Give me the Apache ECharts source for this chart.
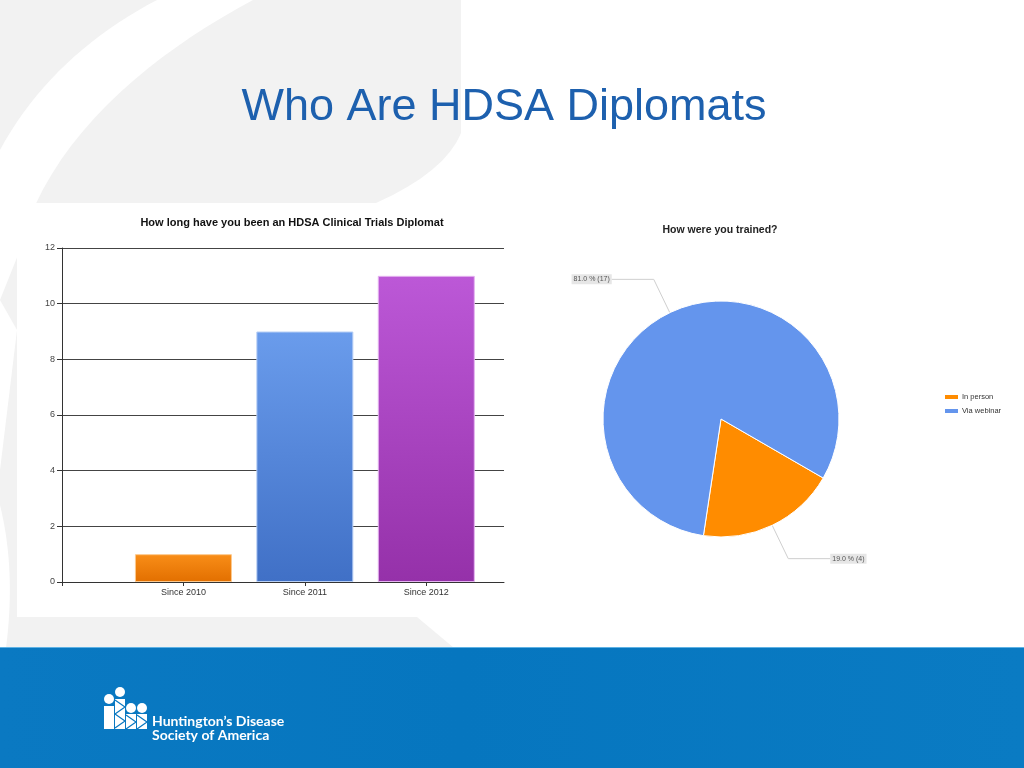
<!DOCTYPE html>
<html>
<head>
<meta charset="utf-8">
<title>Who Are HDSA Diplomats</title>
<script src="https://cdn.jsdelivr.net/npm/echarts@6/dist/echarts.min.js"></script>
<style>
  html, body { margin: 0; padding: 0; background: #fff; }
  #slide { width: 1024px; height: 768px; }
</style>
</head>
<body>
<div id="slide"></div>
<script>
// bar chart: how long have you been a diplomat
const barCategories = ['Since 2010', 'Since 2011', 'Since 2012'];
const barValues = [1, 9, 11];
const barTicks = [0, 2, 4, 6, 8, 10, 12];

// pie chart: how were you trained
const pieNames = ['In person', 'Via webinar'];
const pieValues = [4, 17];

// colours (top / bottom of each bar gradient, pie slices)
const barTop = ['#f98e18', '#6a9cec', '#bc58d7'];
const barBottom = ['#e26f00', '#4070c6', '#9531a9'];
const barEdge = ['#fcc98e', '#b7cff5', '#e4b3f0'];
const pieColors = ['#ff8c00', '#6495ed'];

const FONT = '"Liberation Sans", Arial, sans-serif';
const blue = '#0877c0';

const pieTotal = pieValues.reduce(function (a, b) { return a + b; }, 0);

const myChart = echarts.init(document.getElementById('slide'));

// turn a small M/L/Q/C outline into polygon points (graphic has no generic path)
function outline(cmds) {
  const pts = [];
  let cur = [0, 0];
  cmds.forEach(function (c) {
    if (c[0] === 'M' || c[0] === 'L') {
      cur = [c[1], c[2]];
      pts.push(cur);
    } else if (c[0] === 'Q') {
      const p0 = cur;
      for (let t = 1; t <= 16; t++) {
        const s = t / 16, u = 1 - s;
        pts.push([u * u * p0[0] + 2 * u * s * c[1] + s * s * c[3],
                  u * u * p0[1] + 2 * u * s * c[2] + s * s * c[4]]);
      }
      cur = [c[3], c[4]];
    } else if (c[0] === 'C') {
      const p0 = cur;
      for (let t = 1; t <= 20; t++) {
        const s = t / 20, u = 1 - s;
        pts.push([u * u * u * p0[0] + 3 * u * u * s * c[1] + 3 * u * s * s * c[3] + s * s * s * c[5],
                  u * u * u * p0[1] + 3 * u * u * s * c[2] + 3 * u * s * s * c[4] + s * s * s * c[6]]);
      }
      cur = [c[5], c[6]];
    }
  });
  return pts;
}

// slide decoration (background swoosh, white chart panel, footer and logo)
function slideGraphics() {
  const g = [];
  g.push({
    type: 'polygon', z: -30, silent: true,
    shape: { points: outline([['M', 0, 0], ['L', 461, 0], ['L', 461, 133], ['Q', 445, 172, 376, 203],
      ['L', 417, 617], ['L', 454, 648], ['L', 0, 648]]) },
    style: { fill: '#f2f2f2' }
  });
  g.push({
    type: 'polygon', z: -29, silent: true,
    shape: { points: outline([['M', 157, 0], ['L', 253, 0], ['C', 150, 55, 45, 140, 18, 255],
      ['L', 0, 300], ['L', 0, 150], ['C', 35, 85, 90, 35, 157, 0]]) },
    style: { fill: '#ffffff' }
  });
  g.push({
    type: 'polygon', z: -29, silent: true,
    shape: { points: [[0, 300], [17, 330], [0, 470]] },
    style: { fill: '#ffffff' }
  });
  g.push({
    type: 'polygon', z: -29, silent: true,
    shape: { points: outline([['M', 0, 505], ['Q', 16, 570, 6, 648], ['L', 0, 648]]) },
    style: { fill: '#ffffff' }
  });
  // white panel behind the bar chart
  g.push({
    type: 'rect', z: -28, silent: true,
    shape: { x: 17, y: 203, width: 498, height: 414 },
    style: { fill: '#ffffff' }
  });
  // footer band
  g.push({
    type: 'rect', z: -27, silent: true,
    shape: { x: 0, y: 647, width: 1024, height: 121 },
    style: {
      fill: new echarts.graphic.LinearGradient(0, 0, 1, 0, [
        { offset: 0, color: '#0a79c2' },
        { offset: 0.45, color: '#0676bf' },
        { offset: 1, color: '#0a7bc3' }
      ])
    }
  });
  g.push({
    type: 'line', z: -26, silent: true,
    shape: { x1: 0, y1: 647.5, x2: 1024, y2: 647.5 },
    style: { stroke: '#5fb2e4', lineWidth: 1 }
  });
  // logo figures
  const heads = [[109, 699], [120, 692], [131, 708], [142, 708]];
  const bodyTop = [706, 699, 714, 714];
  heads.forEach(function (h, i) {
    g.push({
      type: 'circle', z: -25, silent: true,
      shape: { cx: h[0], cy: h[1], r: 5 },
      style: { fill: '#ffffff' }
    });
    const x0 = 104 + i * 11;
    g.push({
      type: 'rect', z: -25, silent: true,
      shape: { x: x0, y: bodyTop[i], width: 10, height: 729 - bodyTop[i] },
      style: { fill: '#ffffff' }
    });
    if (i > 0) {
      const pts = [];
      let y = bodyTop[i] + 1;
      let left = true;
      while (y <= 729) {
        pts.push([left ? x0 : x0 + 10, y]);
        left = !left;
        y += 7;
      }
      g.push({
        type: 'polyline', z: -24, silent: true,
        shape: { points: pts },
        style: { stroke: blue, lineWidth: 1.2, fill: null }
      });
    }
  });
  g.push({
    type: 'text', z: -24, silent: true,
    x: 152, y: 714,
    style: {
      text: 'Huntington\u2019s Disease',
      fill: '#ffffff', font: 'bold 14px Lato, "Open Sans", sans-serif',
      verticalAlign: 'alphabetic'
    }
  });
  g.push({
    type: 'text', z: -24, silent: true,
    x: 152, y: 728.5,
    style: {
      text: 'Society of America',
      fill: '#ffffff', font: 'bold 14px Lato, "Open Sans", sans-serif',
      verticalAlign: 'alphabetic'
    }
  });
  return g;
}

function barData() {
  return barValues.map(function (v, i) {
    return {
      value: [i + 1, v],
      itemStyle: {
        color: new echarts.graphic.LinearGradient(0, 0, 0, 1, [
          { offset: 0, color: barTop[i] },
          { offset: 1, color: barBottom[i] }
        ]),
        borderColor: barEdge[i],
        borderWidth: 1
      }
    };
  });
}

function pieData() {
  return pieNames.map(function (n, i) {
    return { name: n, value: pieValues[i], itemStyle: { color: pieColors[i] } };
  });
}

const option = {
  animation: false,
  backgroundColor: '#ffffff',
  graphic: slideGraphics(),
  title: [
    {
      text: 'Who Are HDSA Diplomats',
      left: 504, top: 85, textAlign: 'center', padding: 0,
      textStyle: { fontFamily: FONT, fontSize: 45, fontWeight: 'normal', color: '#1d60ae' }
    },
    {
      text: 'How long have you been an HDSA Clinical Trials Diplomat',
      left: 292, top: 217, textAlign: 'center', padding: 0,
      textStyle: { fontFamily: FONT, fontSize: 11, fontWeight: 'bold', color: '#111' }
    },
    {
      text: 'How were you trained?',
      left: 720, top: 224.5, textAlign: 'center', padding: 0,
      textStyle: { fontFamily: FONT, fontSize: 10.5, fontWeight: 'bold', color: '#222' }
    }
  ],
  legend: {
    data: pieNames,
    orient: 'vertical',
    left: 943, top: 393,
    padding: 0,
    itemWidth: 15, itemHeight: 6, itemGap: 6,
    icon: 'rect',
    selectedMode: false,
    textStyle: { fontFamily: FONT, fontSize: 7.5, color: '#333', padding: [0, 0, 0, -2] }
  },
  grid: { left: 62, top: 248, width: 442, height: 334 },
  xAxis: {
    type: 'value',
    min: 0, max: 3.64, interval: 1,
    axisLine: { show: true, lineStyle: { color: '#333', width: 1 } },
    axisTick: { show: true, length: 4, customValues: [0, 1, 2, 3], lineStyle: { color: '#333' } },
    axisLabel: {
      customValues: [1, 2, 3],
      formatter: function (v) { return barCategories[Math.round(v) - 1] || ''; },
      fontFamily: FONT, fontSize: 9, color: '#333', margin: 6
    },
    splitLine: { show: false }
  },
  yAxis: {
    type: 'value',
    min: barTicks[0], max: barTicks[barTicks.length - 1], interval: 2,
    axisLine: { show: true, lineStyle: { color: '#333', width: 1 } },
    axisTick: { show: true, length: 5, lineStyle: { color: '#333' } },
    axisLabel: { fontFamily: FONT, fontSize: 9, color: '#444', margin: 7 },
    splitLine: { show: true, lineStyle: { color: '#444', width: 1 } }
  },
  series: [
    {
      type: 'bar',
      name: 'Diplomats',
      barWidth: 97,
      data: barData(),
      emphasis: { disabled: true }
    },
    {
      type: 'pie',
      name: 'Training',
      center: [721, 419],
      radius: 118,
      startAngle: -30,
      clockwise: true,
      avoidLabelOverlap: false,
      data: pieData(),
      itemStyle: { borderColor: '#ffffff', borderWidth: 1 },
      emphasis: { disabled: true },
      label: {
        show: true,
        position: 'outside',
        distanceToLabelLine: 0,
        formatter: function (p) {
          return (p.value / pieTotal * 100).toFixed(1) + ' % (' + p.value + ')';
        },
        fontFamily: FONT, fontSize: 7, color: '#555',
        backgroundColor: '#e6e6e6',
        padding: [2, 2, 1, 2]
      },
      labelLine: {
        show: true, length: 37, length2: 42,
        lineStyle: { color: '#cfcfcf', width: 1 }
      }
    }
  ]
};

myChart.setOption(option);
</script>
</body>
</html>
